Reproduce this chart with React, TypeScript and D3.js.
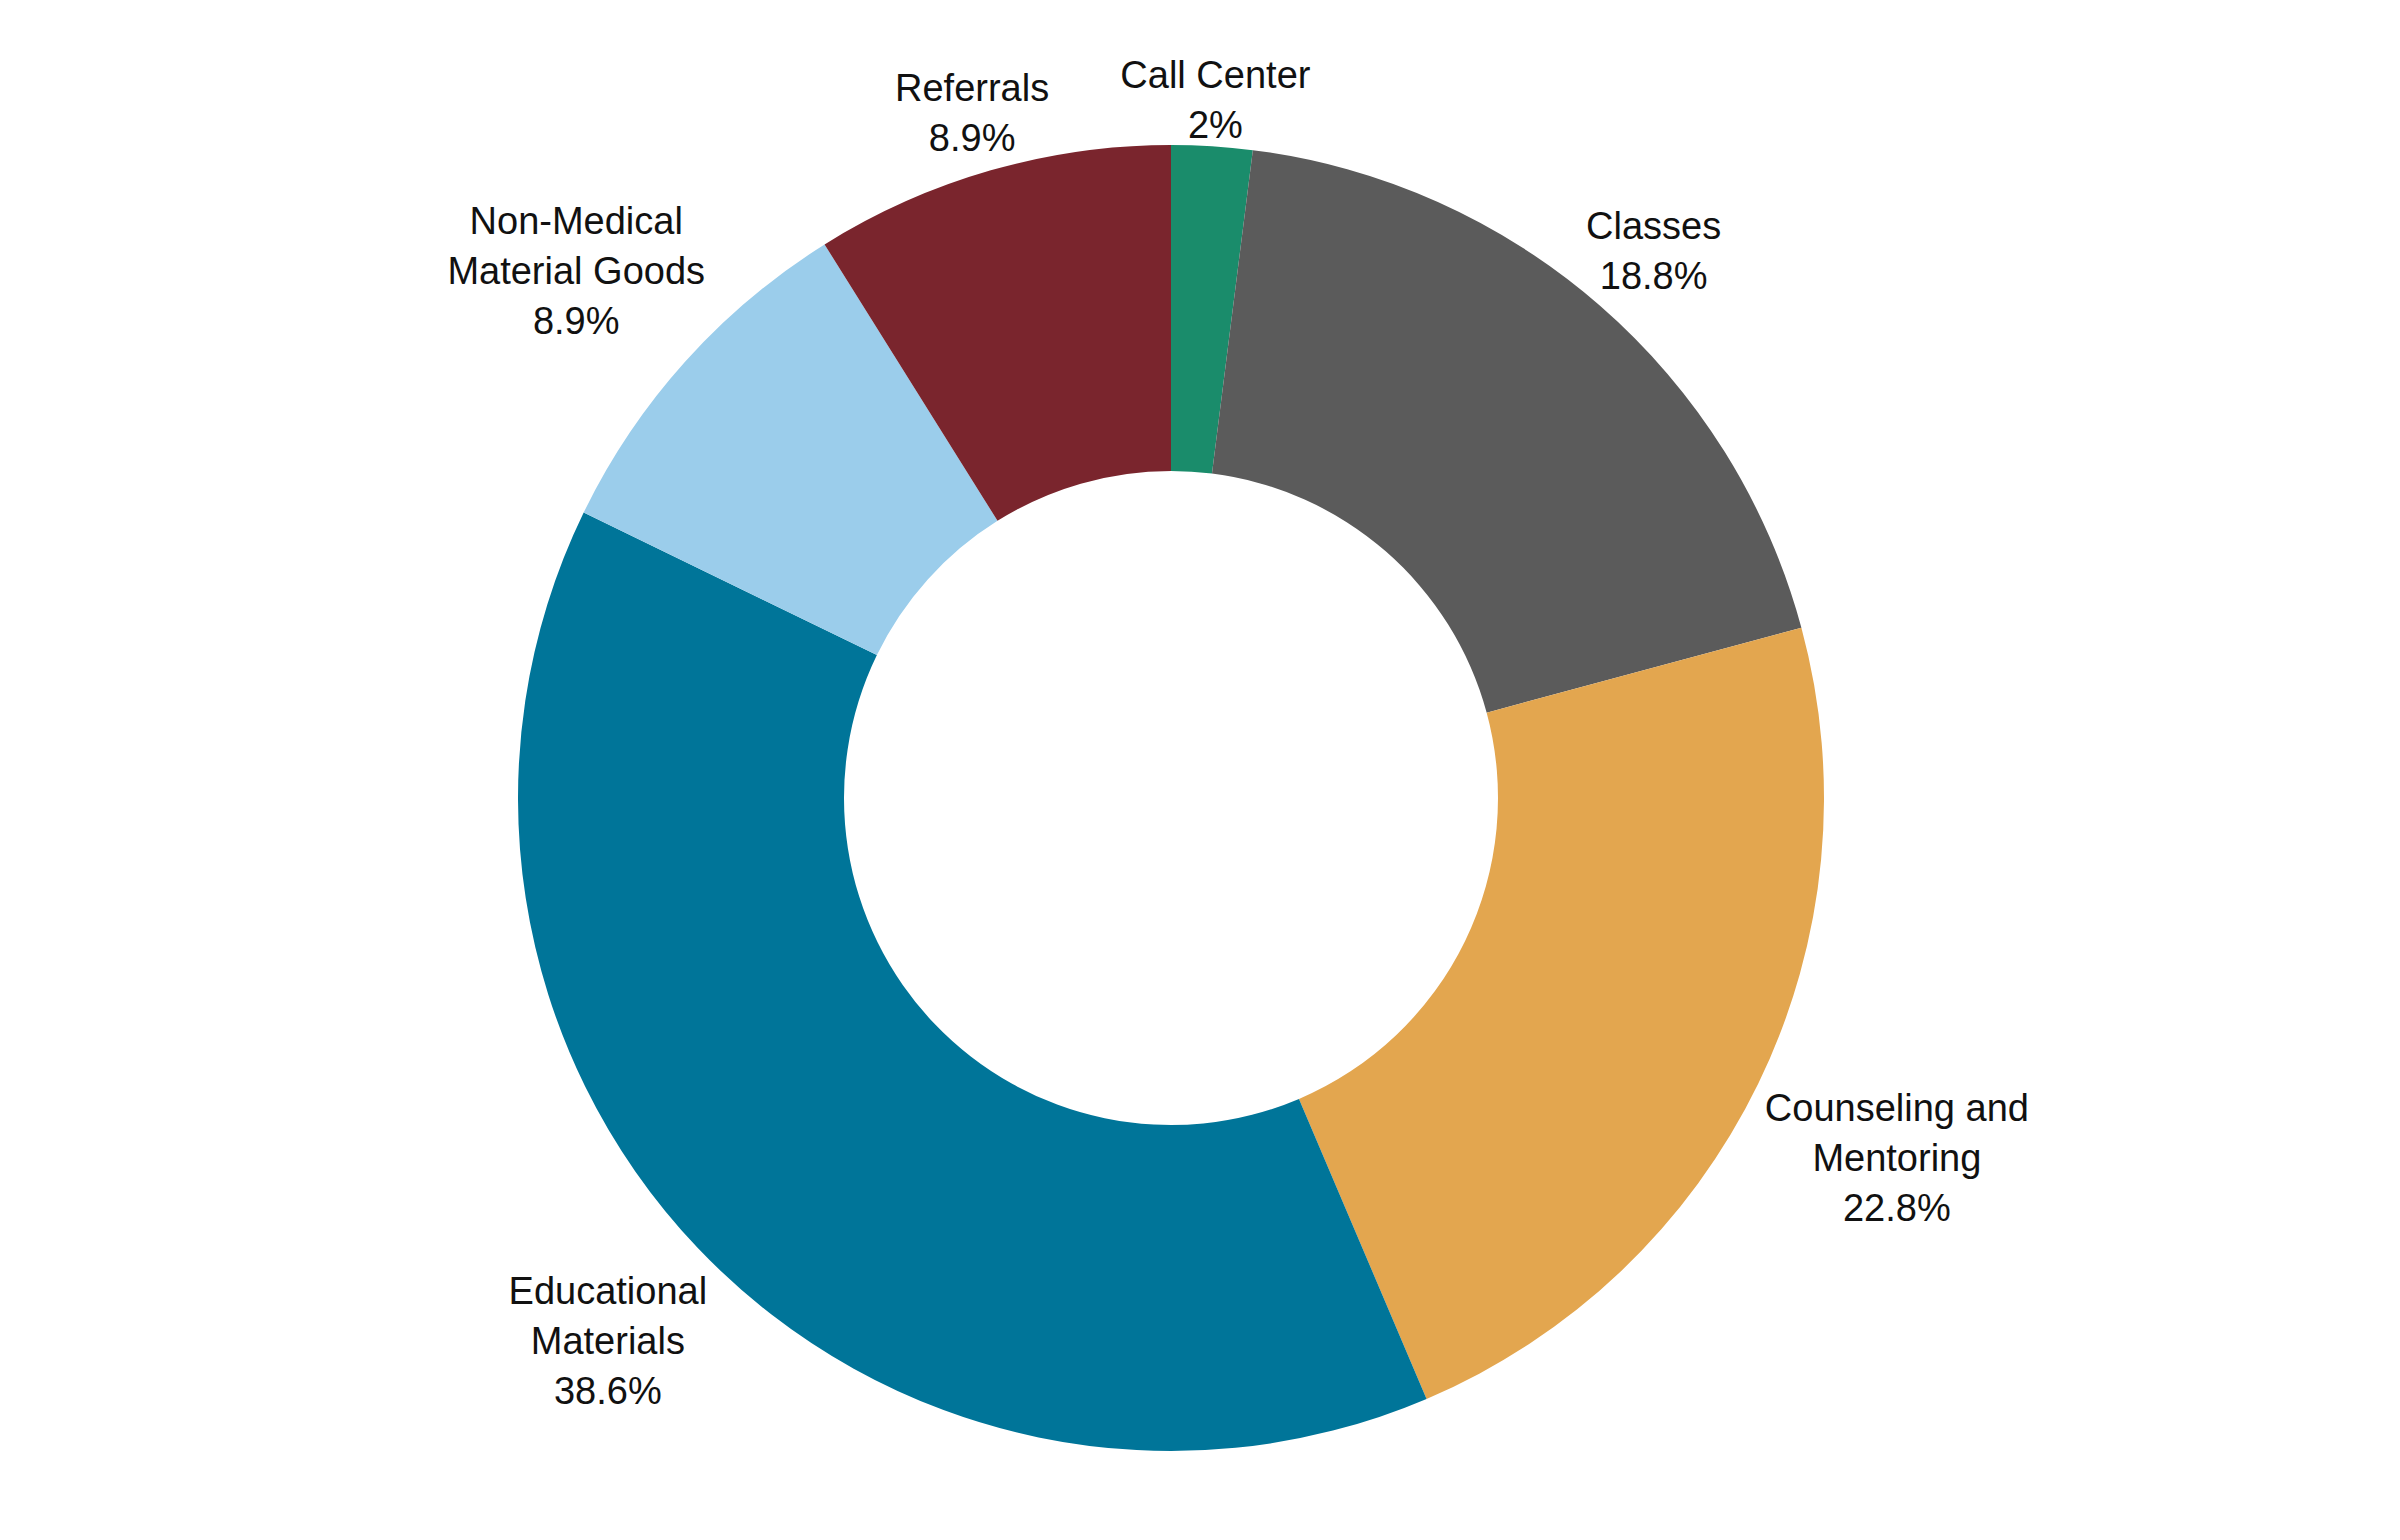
import { useEffect, useRef } from "react"
import * as d3 from "d3"

const categories = [
  "Call Center",
  "Classes",
  "Counseling and Mentoring",
  "Educational Materials",
  "Non-Medical Material Goods",
  "Referrals",
]
const shares = [2, 18.8, 22.8, 38.6, 8.9, 8.9]
const labelLines = [
  ["Call Center"],
  ["Classes"],
  ["Counseling and", "Mentoring"],
  ["Educational", "Materials"],
  ["Non-Medical", "Material Goods"],
  ["Referrals"],
]
const colors = ["#1a8c6b", "#5b5b5b", "#e3a64f", "#007599", "#9bcdeb", "#7a252d"]

const W = 2400
const H = 1540

export default function App() {
  const ref = useRef<SVGSVGElement>(null)

  useEffect(() => {
    document.body.style.margin = "0"
    if (!ref.current) return
    const el = ref.current
    d3.select(el).selectAll("*").remove()

    const cx = 1171
    const cy = 798
    const outer = 653
    const inner = 327
    const fontSize = 38
    const lineH = 50

    const svg = d3.select(el).attr("width", W).attr("height", H)
    svg.append("rect").attr("width", W).attr("height", H).attr("fill", "#fff")

    const g = svg.append("g").attr("transform", `translate(${cx},${cy})`)

    const data = categories.map((c, i) => ({ name: c, value: shares[i], i }))
    const pie = d3.pie<typeof data[number]>().value((d) => d.value).sort(null)
    const arcs = pie(data)
    const arc = d3.arc<d3.PieArcDatum<typeof data[number]>>().innerRadius(inner).outerRadius(outer)

    g.selectAll("path")
      .data(arcs)
      .join("path")
      .attr("d", arc)
      .attr("fill", (d) => colors[d.data.i])

    arcs.forEach((a) => {
      const lines = [...labelLines[a.data.i], `${a.data.value}%`]
      const t = g
        .append("text")
        .attr("font-family", "'Liberation Sans', Arial, sans-serif")
        .attr("font-size", fontSize)
        .attr("fill", "#111")
        .attr("text-anchor", "middle")
      lines.forEach((l, k) => {
        t.append("tspan").attr("x", 0).attr("y", (k - (lines.length - 1) / 2) * lineH).attr("dy", "0.35em").text(l)
      })
      const bb = (t.node() as SVGTextElement).getBBox()
      const hw = bb.width / 2
      const hh = (lines.length * lineH) / 2 - 8
      const mid = (a.startAngle + a.endAngle) / 2
      const sx = Math.sin(mid)
      const sy = -Math.cos(mid)
      const R = outer + 6 + Math.abs(sx) * hw + Math.abs(sy) * hh
      t.attr("transform", `translate(${R * sx},${R * sy + 7})`)
    })
  }, [])

  return <svg ref={ref} style={{ display: "block" }} />
}
